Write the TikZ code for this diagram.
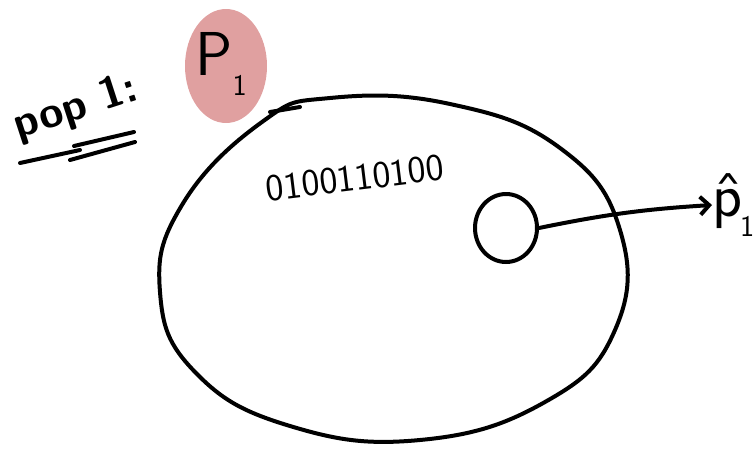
\documentclass[tikz,border=0pt]{standalone}
\usepackage{amsmath}
\usetikzlibrary{shapes.geometric,arrows.meta,positioning}
\definecolor{BlobPink}{RGB}{224,160,160}
\tikzset{
  ink/.style={line width=4pt,line cap=round,line join=round},
  hand/.style={font=\fontsize{44}{44}\selectfont\sffamily\bfseries,inner sep=0pt},
  big/.style={font=\fontsize{62}{62}\selectfont\sffamily,inner sep=0pt},
  blob/.style={ellipse,fill=BlobPink,minimum width=82pt,minimum height=114pt,
               inner sep=0pt},
  dotbox/.style={draw,ellipse,ink,minimum width=62pt,minimum height=68pt,
                 inner sep=0pt},
  arr/.style={ink,-{Straight Barb[length=9pt,width=18pt]}},
}
\newcommand{\lowone}{\raisebox{-20pt}{\fontsize{30}{30}\selectfont\sffamily 1}}

\begin{document}
\begin{tikzpicture}[x=1pt,y=-1pt]
    \useasboundingbox (0,0) rectangle (755,453);
    % population outline
    \draw[ink] plot[smooth cycle,tension=0.75] coordinates {
      (330,98) (450,104) (560,148) (620,230) (615,330) (545,402)
      (420,440) (290,426) (195,372) (160,292) (182,205) (262,122)};
    \draw[ink] (270,112) -- (300,107);
    % labels
    \node[hand,rotate=18] (poplbl) at (76,108) {pop 1:};
    \draw[ink] (74,146) -- (134,132);
    \draw[ink] (20,163) -- (80,150);
    \draw[ink] (70,160) -- (135,142);
    \node[blob] (pone) at (226,66) {};
    \node[big] (ponelbl) at (221,64) {P\lowone};
    \node[font=\fontsize{38}{38}\selectfont\sffamily,inner sep=0pt,rotate=7]
      (bits) at (355,178) {0100110100};
    % sample and estimate
    \node[dotbox] (sample) at (506,228) {};
    \node[big,anchor=west] (phat) at (712,205) {\^p\hspace{-2pt}\lowone};
    \draw[arr] (sample.east) to[bend left=4] (phat.west);
\end{tikzpicture}
\end{document}
